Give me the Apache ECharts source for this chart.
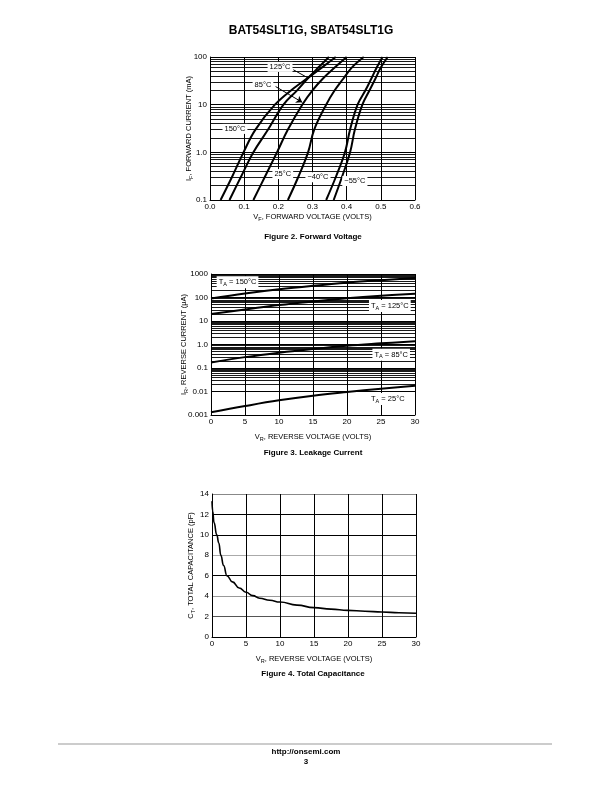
<!DOCTYPE html>
<html><head><meta charset="utf-8">
<script src="https://cdn.jsdelivr.net/npm/echarts@6/dist/echarts.min.js"></script>
<style>html,body{margin:0;padding:0;background:#fff}#c{width:612px;height:792px}</style>
</head><body><div id="c"></div>
<script>
const FONT = '"Liberation Sans", Arial, Helvetica, sans-serif';

// ---------- Figure 2: Forward Voltage ----------
const fwdXTicks = ['0.0','0.1','0.2','0.3','0.4','0.5','0.6'];
const fwdYTicks = ['0.1','1.0','10','100'];
const fwd150 = [[0.031,0.1],[0.064,0.3],[0.098,1],[0.133,3],[0.19,10],[0.245,22],[0.29,38],[0.33,62],[0.368,100]];
const fwd125 = [[0.057,0.1],[0.09,0.3],[0.127,1],[0.17,3],[0.215,10],[0.255,20],[0.29,38],[0.32,63],[0.348,100]];
const fwd85  = [[0.127,0.1],[0.16,0.3],[0.196,1],[0.228,3],[0.27,10],[0.30,20],[0.33,35],[0.365,60],[0.40,100]];
const fwd25  = [[0.228,0.1],[0.258,0.3],[0.287,1],[0.305,3],[0.34,10],[0.365,20],[0.39,35],[0.415,60],[0.45,100]];
const fwdM40 = [[0.34,0.1],[0.368,0.3],[0.395,1],[0.41,3],[0.432,10],[0.455,20],[0.472,35],[0.488,60],[0.505,100]];
const fwdM55 = [[0.362,0.1],[0.386,0.3],[0.41,1],[0.424,3],[0.446,10],[0.467,20],[0.484,35],[0.5,60],[0.52,100]];

// ---------- Figure 3: Leakage Current ----------
const revXTicks = ['0','5','10','15','20','25','30'];
const revYTicks = ['0.001','0.01','0.1','1.0','10','100','1000'];
const revV   = [0, 5, 10, 15, 20, 25, 30];
const rev150 = [90, 148, 224, 316, 427, 543, 670];
const rev125 = [20, 31, 48, 68, 92, 118, 145];
const rev85  = [0.17, 0.29, 0.45, 0.65, 0.89, 1.12, 1.38];
const rev25  = [0.0013, 0.0024, 0.0042, 0.0066, 0.0095, 0.0132, 0.0174];

// ---------- Figure 4: Total Capacitance ----------
const capXTicks = ['0','5','10','15','20','25','30'];
const capYTicks = ['0','2','4','6','8','10','12','14'];
const capV = [0,0.1,0.3,0.7,1,1.3,1.7,2.2,3,4,5,6,7,8.5,10,12.5,15,17.5,20,22.5,25,27.5,30];
const capC = [13.3,12.3,11.2,10,9.2,8,7,6,5.4,4.8,4.38,4.05,3.8,3.6,3.42,3.12,2.88,2.73,2.61,2.52,2.45,2.38,2.32];

// log-grid minor lines (2..9 per decade)
const mantissas = [2,3,4,5,6,7,8,9];
const fwdDecades = [0.1, 1, 10];
const revDecades = [0.001, 0.01, 0.1, 1, 10, 100];
function minorLines(decades){
  const out = [];
  decades.forEach(d => mantissas.forEach(m => out.push({yAxis: +(d*m).toPrecision(3)})));
  return out;
}

const BLACK = '#000';
const tick = {fontFamily: FONT, fontSize: 8, color: BLACK};
const nameStyle = {fontFamily: FONT, fontSize: 7.5, color: BLACK,
  rich: {s: {fontFamily: FONT, fontSize: 5.5, color: BLACK, padding: [4,0,0,0]}}};

function valAxis(gridIndex, min, max, interval, labels, extra){
  return Object.assign({
    type: 'value', gridIndex, min, max, interval,
    axisLine: {show: true, lineStyle: {color: BLACK, width: 1}},
    axisTick: {show: false},
    splitLine: {show: true, lineStyle: {color: BLACK, width: 1}},
    axisLabel: Object.assign({margin: 3, formatter: (v, i) => labels[i]}, tick),
    nameLocation: 'middle', nameMoveOverlap: false, nameTextStyle: nameStyle
  }, extra || {});
}
function logAxis(gridIndex, min, max, labels, extra){
  return Object.assign({
    type: 'log', logBase: 10, gridIndex, min, max,
    axisLine: {show: true, lineStyle: {color: BLACK, width: 1}},
    axisTick: {show: false},
    splitLine: {show: true, lineStyle: {color: BLACK, width: 1}},
    minorTick: {show: false}, minorSplitLine: {show: false},
    axisLabel: Object.assign({margin: 3, formatter: (v, i) => labels[i]}, tick),
    nameLocation: 'middle', nameMoveOverlap: false, nameTextStyle: nameStyle
  }, extra || {});
}

function curve(data, xi, yi, w){
  return {type: 'line', xAxisIndex: xi, yAxisIndex: yi, data, showSymbol: false, symbol: 'none',
    smooth: 0.4, lineStyle: {color: BLACK, width: w}, silent: true, z: 3};
}

const boxLabel = {show: true, position: 'inside', fontFamily: FONT, fontSize: 7.5, color: BLACK,
  backgroundColor: '#fff', padding: [1, 2, 1, 2], formatter: p => p.name};
const subLabel = Object.assign({}, boxLabel, {
  formatter: p => '{t|T}{s|A}{t| = ' + p.name + '}',
  rich: {t: {fontFamily: FONT, fontSize: 7.5, color: BLACK},
         s: {fontFamily: FONT, fontSize: 5.5, color: BLACK, padding: [4,0,0,0]}}
});
const gridLineStyle = {color: BLACK, width: 0.9, type: 'solid'};

const series = [];
// Figure 2
const f2Grid = curve(fwd150, 0, 0, 2);
f2Grid.markLine = {silent: true, symbol: 'none', label: {show: false}, z: 1,
  lineStyle: gridLineStyle, data: minorLines(fwdDecades)};
series.push(f2Grid);
[fwd125, fwd85, fwd25, fwdM40, fwdM55].forEach(d => series.push(curve(d, 0, 0, 2)));
series.push({type: 'line', xAxisIndex: 0, yAxisIndex: 0, data: [], silent: true, z: 6,
  markPoint: {symbol: 'rect', symbolSize: 1, itemStyle: {color: 'rgba(0,0,0,0)'}, z: 6, label: boxLabel,
    data: [
      {name: '125°C', coord: [0.205, 62]},
      {name: '85°C', coord: [0.155, 26]},
      {name: '150°C', coord: [0.073, 3.1]},
      {name: '25°C', coord: [0.213, 0.35]},
      {name: '−40°C', coord: [0.316, 0.30]},
      {name: '−55°C', coord: [0.424, 0.25]}
    ]},
  markLine: {silent: true, z: 6, label: {show: false}, lineStyle: {color: BLACK, width: 1, type: 'solid'},
    symbol: 'none',
    data: [
      [{coord: [0.244, 54]}, {coord: [0.285, 37]}],
      [{coord: [0.192, 24], symbol: 'none'}, {coord: [0.27, 11.2], symbol: 'arrow', symbolSize: 6}]
    ]}
});

// Figure 3
const f3a = curve(revV.map((v,i)=>[v, rev150[i]]), 1, 1, 2);
f3a.markLine = {silent: true, symbol: 'none', label: {show: false}, z: 1,
  lineStyle: gridLineStyle, data: minorLines(revDecades)};
series.push(f3a);
[rev125, rev85, rev25].forEach(arr => series.push(curve(revV.map((v,i)=>[v, arr[i]]), 1, 1, 2)));
series.push({type: 'line', xAxisIndex: 1, yAxisIndex: 1, data: [], silent: true, z: 6,
  markPoint: {symbol: 'rect', symbolSize: 1, itemStyle: {color: 'rgba(0,0,0,0)'}, z: 6, label: subLabel,
    data: [
      {name: '150°C', coord: [3.9, 450]},
      {name: '125°C', coord: [26.3, 43]},
      {name: '85°C', coord: [26.5, 0.37]},
      {name: '25°C', coord: [26.0, 0.0048]}
    ]}
});

// Figure 4
series.push(Object.assign(curve(capV.map((v,i)=>[v, capC[i]]), 2, 2, 1.6), {smooth: 0.5, smoothMonotone: 'x'}));

const chart = echarts.init(document.getElementById('c'), null, {renderer: 'canvas', width: 612, height: 792});
chart.setOption({
  backgroundColor: '#fff',
  animation: false,
  grid: [
    {left: 210, top: 57, width: 205, height: 143},
    {left: 211, top: 274, width: 204, height: 141},
    {left: 212, top: 494, width: 204, height: 143}
  ],
  xAxis: [
    valAxis(0, 0, 0.6, 0.1, fwdXTicks, {name: 'V{s|F}, FORWARD VOLTAGE (VOLTS)', nameGap: 12}),
    valAxis(1, 0, 30, 5, revXTicks, {name: 'V{s|R}, REVERSE VOLTAGE (VOLTS)', nameGap: 17}),
    valAxis(2, 0, 30, 5, capXTicks, {name: 'V{s|R}, REVERSE VOLTAGE (VOLTS)', nameGap: 17})
  ],
  yAxis: [
    logAxis(0, 0.1, 100, fwdYTicks, {name: 'I{s|F}, FORWARD CURRENT (mA)', nameGap: 16}),
    logAxis(1, 0.001, 1000, revYTicks, {name: 'I{s|R}, REVERSE CURRENT (μA)', nameGap: 22}),
    valAxis(2, 0, 14, 2, capYTicks, {name: 'C{s|T}, TOTAL CAPACITANCE (pF)', nameGap: 16,
      splitLine: {show: true, lineStyle: {width: 1,
        color: ['#000','#555','#999','#000','#aaa','#000','#000','#888']}}})
  ],
  series,
  graphic: [
    {type: 'text', x: 311, y: 31, style: {text: 'BAT54SLT1G, SBAT54SLT1G', font: 'bold 12px ' + FONT, fill: BLACK, align: 'center', verticalAlign: 'middle'}},
    {type: 'text', x: 313, y: 237, style: {text: 'Figure 2. Forward Voltage', font: 'bold 8px ' + FONT, fill: BLACK, align: 'center', verticalAlign: 'middle'}},
    {type: 'text', x: 313, y: 453, style: {text: 'Figure 3. Leakage Current', font: 'bold 8px ' + FONT, fill: BLACK, align: 'center', verticalAlign: 'middle'}},
    {type: 'text', x: 313, y: 674, style: {text: 'Figure 4. Total Capacitance', font: 'bold 8px ' + FONT, fill: BLACK, align: 'center', verticalAlign: 'middle'}},
    {type: 'line', shape: {x1: 58, y1: 744, x2: 552, y2: 744}, style: {stroke: '#999', lineWidth: 1}},
    {type: 'text', x: 306, y: 752, style: {text: 'http://onsemi.com', font: 'bold 8px ' + FONT, fill: BLACK, align: 'center', verticalAlign: 'middle'}},
    {type: 'text', x: 306, y: 762, style: {text: '3', font: 'bold 8px ' + FONT, fill: BLACK, align: 'center', verticalAlign: 'middle'}}
  ]
});
</script></body></html>
